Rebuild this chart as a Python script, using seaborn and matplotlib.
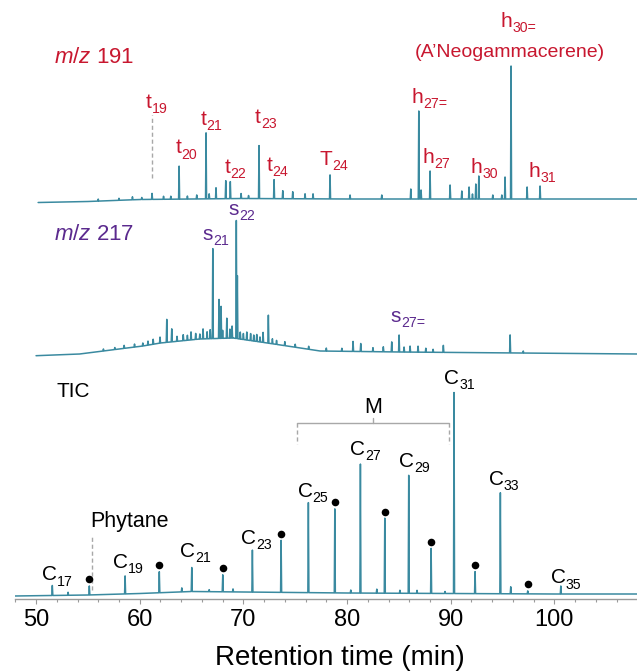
import numpy as np
import pandas as pd
import matplotlib
matplotlib.use('Agg')  # no display
import matplotlib.pyplot as plt
from matplotlib.ticker import MultipleLocator
from matplotlib.transforms import offset_copy
import seaborn as sns

# ---- peaks: retention time (min), height (arb. units) ----
# TIC
tic_times = [51.57, 53.09, 55.14, 58.59, 61.89, 64.06, 65.02, 66.7, 68.01, 69.0, 70.87,
             73.64, 76.27, 78.82, 80.36, 81.29, 82.87, 83.64, 85.1, 85.95, 86.75, 88.11,
             89.45, 90.32, 92.35, 94.79, 95.79, 97.43, 100.62]
tic_heights = [10, 3, 9, 18, 21, 4, 24, 2, 17, 3, 42,
               52, 90, 84, 3, 129, 4, 75, 3, 118, 3, 45,
               2, 201, 22, 101, 7, 3, 8]
# peaks flagged with a black dot
tic_dot_times = [55.14, 61.89, 68.01, 73.64, 78.82, 83.64, 88.11, 92.35, 97.43]
tic_base_t = [47.9, 55, 60, 65, 70, 80, 90, 100, 108.1]
tic_base_y = [3, 4, 5.5, 7.5, 7, 6, 5.5, 5, 5]

# m/z 217
m217_times = [56.5, 57.6, 58.5, 59.5, 60.3, 60.8, 61.3, 61.96, 62.61, 63.09, 63.6, 64.2,
              64.6, 64.95, 65.4, 65.8, 66.11, 66.5, 66.8, 67.05, 67.65, 67.85, 68.0, 68.4,
              68.7, 68.91, 69.32, 69.42, 69.7, 70.0, 70.33, 70.7, 71.0, 71.29, 71.6, 71.9,
              72.41, 72.8, 73.2, 74.0, 75.0, 76.3, 78.0, 79.5, 80.58, 81.32, 82.5, 83.5,
              84.31, 85.02, 85.5, 86.08, 86.85, 87.6, 88.3, 89.29, 95.73, 97.0]
m217_heights = [2, 2, 3, 3, 3, 4, 5, 6, 23, 13, 5, 6,
                5, 8, 6, 5, 10, 7, 9, 90, 39, 32, 8, 20,
                9, 12, 118, 63, 7, 6, 8, 7, 6, 7, 5, 10,
                28, 5, 4, 4, 3, 3, 3, 3, 10, 8, 4, 5,
                10, 17, 5, 6, 6, 4, 3, 7, 18, 2]
m217_base_t = [50.0, 54.2, 60.3, 62.0, 65.8, 69.0, 72.3, 75.5, 77.4, 85.1, 108.1]
m217_base_y = [0, 1.7, 9.7, 12.7, 16.7, 17.7, 12.7, 7.7, 4.7, 3.7, 1.7]

# m/z 191
m191_times = [56.0, 58.0, 59.3, 60.2, 61.19, 62.3, 63.0, 63.8, 64.6, 65.5, 66.4, 66.7,
              67.36, 68.3, 68.74, 69.78, 70.5, 71.51, 72.96, 73.8, 74.76, 75.95, 76.72,
              78.36, 80.29, 83.35, 86.15, 86.92, 87.14, 88.01, 89.94, 91.07, 91.77, 92.1,
              92.42, 92.71, 94.06, 94.93, 95.24, 95.82, 97.37, 98.62]
m191_heights = [2, 2, 3, 2, 6, 3, 3, 33, 3, 4, 66, 5,
                11, 18, 17, 5, 3, 53, 19, 8, 7, 5, 5,
                24, 4, 4, 10, 88, 9, 28, 14, 8, 12, 5,
                15, 23, 4, 4, 22, 133, 12, 13]
m191_base_t = [50.2, 55, 60, 70, 80, 90, 108.1]
m191_base_y = [0, 1, 3, 4, 3.5, 3.5, 3.5]

# ---- labels (letter + subscript) ----
m191_main = ['t', 't', 't', 't', 't', 't', 'T', 'h', 'h', 'h', 'h', 'h']
m191_sub = ['19', '20', '21', '22', '23', '24', '24', '27=', '27', '30', '31', '30=']
m191_label_x = [61.67, 64.47, 66.93, 69.25, 72.14, 73.30, 78.75, 87.91, 88.64, 93.27, 98.81, 96.50]
m191_label_y = [491, 445.7, 474, 426, 476, 428, 434, 496, 436, 426, 422, 572]

m217_main = ['s', 's', 's']
m217_sub = ['21', '22', '27=']
m217_label_x = [67.36, 69.87, 85.84]
m217_label_y = [359.5, 384, 277]

tic_main = ['C'] * 10
tic_sub = ['17', '19', '21', '23', '25', '27', '29', '31', '33', '35']
tic_label_x = [52.07, 58.88, 65.43, 71.27, 76.72, 81.74, 86.47, 90.85, 95.15, 101.13]
tic_label_y = [18.5, 31.3, 42.3, 55, 102.3, 144, 132.3, 215, 114, 15.7]

# vertical offsets of the stacked traces
OFF_TIC, OFF_217, OFF_191 = 0, 243.3, 396.5
RED, PURPLE, TEAL, GREY = '#c8172f', '#5b2a8e', '#3a8aa0', '#a8a8a8'
HALF_W = 0.05


def build_trace(knot_t, knot_y, peak_t, peak_h, offset):
    peak_t = np.asarray(peak_t, dtype=float)
    peak_h = np.asarray(peak_h, dtype=float)
    x = np.sort(np.concatenate([knot_t, peak_t - HALF_W, peak_t, peak_t + HALF_W]))
    y = np.interp(x, knot_t, knot_y) + offset
    for t, h in zip(peak_t, peak_h):
        y += h * np.clip(1 - np.abs(x - t) / HALF_W, 0, None)
    return x, y


sns.set_style('ticks')
plt.rcParams['font.family'] = ['Liberation Sans', 'DejaVu Sans']
plt.rcParams['mathtext.fontset'] = 'custom'
plt.rcParams['mathtext.rm'] = 'Liberation Sans'
plt.rcParams['mathtext.it'] = 'Liberation Sans:italic'

fig = plt.figure(figsize=(6.37, 6.72), dpi=100)
ax = fig.add_axes([15 / 637, 73 / 672, 622 / 637, 599 / 672])
ax.set_xlim(47.97, 107.97)
ax.set_ylim(0, 599)

traces = [
    (m191_base_t, m191_base_y, m191_times, m191_heights, OFF_191),
    (m217_base_t, m217_base_y, m217_times, m217_heights, OFF_217),
    (tic_base_t, tic_base_y, tic_times, tic_heights, OFF_TIC),
]
for kt, ky, pt, ph, off in traces:
    x, y = build_trace(kt, ky, pt, ph, off)
    sns.lineplot(x=x, y=y, ax=ax, color=TEAL, linewidth=1.1, estimator=None, sort=False)

# dots above flagged TIC peaks
dot_h = [tic_heights[tic_times.index(t)] for t in tic_dot_times]
dot_y = np.interp(tic_dot_times, tic_base_t, tic_base_y) + np.array(dot_h) + 6.5
dots = pd.DataFrame({'t': tic_dot_times, 'y': dot_y})
sns.scatterplot(data=dots, x='t', y='y', ax=ax, color='black', s=30, linewidth=0, zorder=5)

renderer = fig.canvas.get_renderer()
PT = 72 / fig.dpi
SUB_GAP = 0.1  # points between letter box and subscript


def sub_label(x, y, main, sub, color, size=15):
    # letter with a lowered, smaller subscript, centred on x
    t1 = ax.text(x, y, main, color=color, fontsize=size, ha='left', va='baseline')
    t2 = ax.text(x, y, sub, color=color, fontsize=size * 0.68, ha='left', va='baseline')
    w1 = t1.get_window_extent(renderer).width * PT
    w2 = t2.get_window_extent(renderer).width * PT
    left = -(w1 + w2 + SUB_GAP) / 2
    t1.set_transform(offset_copy(ax.transData, fig=fig, x=left, y=0, units='points'))
    t2.set_transform(offset_copy(ax.transData, fig=fig, x=left + w1 + SUB_GAP, y=-size * 0.25,
                                 units='points'))


for m, s, lx, ly in zip(m191_main, m191_sub, m191_label_x, m191_label_y):
    sub_label(lx, ly, m, s, RED)
for m, s, lx, ly in zip(m217_main, m217_sub, m217_label_x, m217_label_y):
    sub_label(lx, ly, m, s, PURPLE)
for m, s, lx, ly in zip(tic_main, tic_sub, tic_label_x, tic_label_y):
    sub_label(lx, ly, m, s, 'black')

ax.text(95.73, 542, "(A\u2019Neogammacerene)", color=RED, fontsize=14, ha='center', va='baseline')
ax.text(51.74, 536, r'$\mathit{m/z}$ 191', color=RED, fontsize=16, ha='left', va='baseline')
ax.text(51.74, 359, r'$\mathit{m/z}$ 217', color=PURPLE, fontsize=16, ha='left', va='baseline')
ax.text(51.93, 202.3, 'TIC', color='black', fontsize=15, ha='left', va='baseline')
ax.text(58.97, 72.5, 'Phytane', color='black', fontsize=15.5, ha='center', va='baseline')

# dashed guide lines
ax.plot([61.19, 61.19], [421, 484], ls=(0, (3, 2)), color=GREY, lw=1)
ax.plot([55.40, 55.40], [9, 62], ls=(0, (3, 2)), color=GREY, lw=1)

# M bracket
ax.plot([75.18, 89.87], [175.7, 175.7], color=GREY, lw=1)
ax.plot([75.18, 75.18], [175.7, 155.5], ls=(0, (3, 2)), color=GREY, lw=1)
ax.plot([89.87, 89.87], [175.7, 155.5], ls=(0, (3, 2)), color=GREY, lw=1)
ax.plot([82.54, 82.54], [175.7, 181], color=GREY, lw=1)
ax.text(82.54, 186.3, 'M', color='black', fontsize=15.5, ha='center', va='baseline')

ax.set_yticks([])
ax.set_ylabel('')
ax.xaxis.set_major_locator(MultipleLocator(10))
ax.xaxis.set_minor_locator(MultipleLocator(2))
for side in ['left', 'top', 'right']:
    ax.spines[side].set_visible(False)
ax.spines['bottom'].set_color('#9a9a9a')
ax.spines['bottom'].set_linewidth(1)
ax.tick_params(axis='x', which='major', length=3.5, width=0.8, color='#9a9a9a',
               labelsize=17, pad=3.5, labelcolor='black')
ax.tick_params(axis='x', which='minor', length=2.2, width=0.8, color='#9a9a9a')
ax.set_xlabel('Retention time (min)', fontsize=20, color='black')
ax.xaxis.label.set_verticalalignment('baseline')
ax.xaxis.set_label_coords(0.5217, -0.110)
ax.patch.set_alpha(0)

fig.savefig('out.png', dpi=100)
